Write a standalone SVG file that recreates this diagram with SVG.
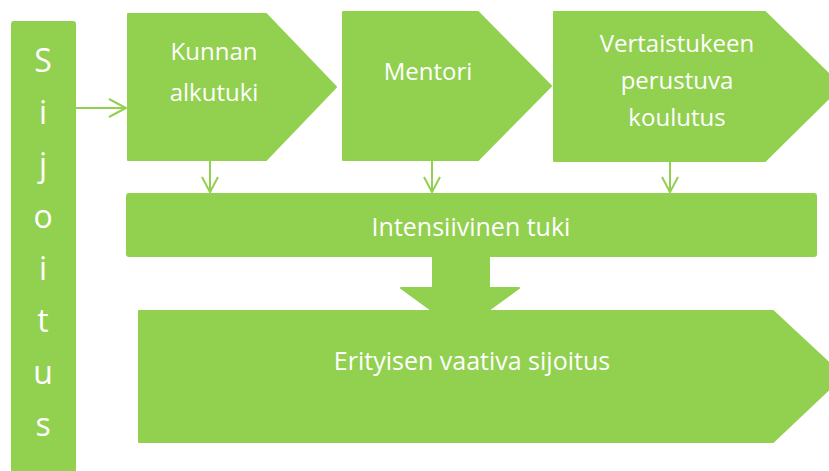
<svg xmlns="http://www.w3.org/2000/svg" width="829" height="471" viewBox="0 0 829 471">
<style>
.shape{fill:#92D050;stroke:#92D050;stroke-width:2;stroke-linejoin:round}
.t{font-family:"Open Sans","Liberation Sans",sans-serif;fill:#ffffff;text-anchor:middle}
.conn{fill:none;stroke:#92D050;stroke-width:2}
</style>
<rect width="829" height="471" fill="#ffffff"/>
<g id="sijoitus">
<rect class="shape" x="12" y="22" width="63" height="460" rx="2"/>
<g class="t" font-size="32">
<text x="43" y="72">S</text>
<text x="43" y="124">i</text>
<text x="43" y="176">j</text>
<text x="43" y="228">o</text>
<text x="43" y="280">i</text>
<text x="43" y="332">t</text>
<text x="43" y="384">u</text>
<text x="43" y="436">s</text>
</g>
</g>
<g id="connectors">
<path class="conn" d="M76,108 H126 M109,99 L126,108 L109,117"/>
<path class="conn" d="M210,161 V192 M202,177 L210,192 L218,177"/>
<path class="conn" d="M432,161 V192 M424,177 L432,192 L440,177"/>
<path class="conn" d="M670,162 V192 M662,177 L670,192 L678,177"/>
<polygon class="shape" points="433,256 489,256 489,288 519,288 460,331 401,288 433,288"/>
</g>
<g id="kunnan">
<polygon class="shape" points="128,14 266,14 336,87 266,160 128,160"/>
<text class="t" font-size="24" x="214" y="60">Kunnan</text>
<text class="t" font-size="24" x="214" y="101">alkutuki</text>
</g>
<g id="mentori">
<polygon class="shape" points="343,12 478,12 551,86 478,160 343,160"/>
<text class="t" font-size="24" x="428" y="80">Mentori</text>
</g>
<g id="vertaistukeen">
<polygon class="shape" points="554,12 765,12 841,86 765,161 554,161"/>
<text class="t" font-size="24" x="677" y="52">Vertaistukeen</text>
<text class="t" font-size="24" x="677" y="89">perustuva</text>
<text class="t" font-size="24" x="677" y="126">koulutus</text>
</g>
<g id="intensiivinen">
<rect class="shape" x="127" y="194" width="689" height="62" rx="2"/>
<text class="t" font-size="25" x="471" y="236">Intensiivinen tuki</text>
</g>
<g id="erityisen">
<polygon class="shape" points="139,311 773,311 843,376 773,442 139,442"/>
<text class="t" font-size="25" x="472" y="370">Erityisen vaativa sijoitus</text>
</g>
</svg>
